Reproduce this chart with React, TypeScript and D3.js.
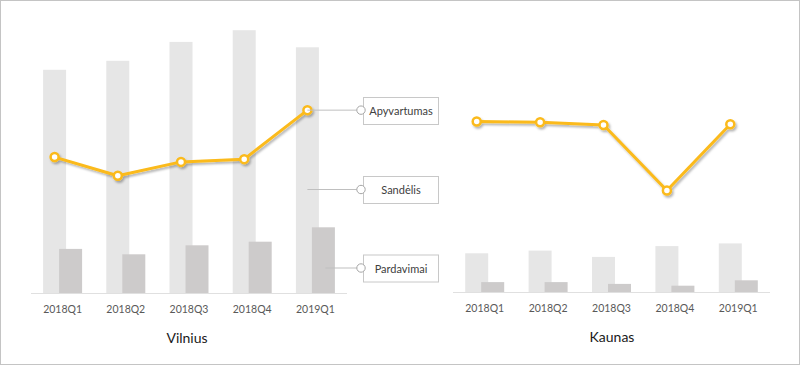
import React from "react";
import { scaleBand, scaleLinear, line } from "d3";

// quarters on the x axis
const quarters = ["2018Q1", "2018Q2", "2018Q3", "2018Q4", "2019Q1"];

// Vilnius
const vilniusSandelis = [248, 258, 279, 292, 273];
const vilniusPardavimai = [49, 43, 53, 57, 73];
const vilniusApyvartumas = [19.7, 17.0, 19.0, 19.4, 26.5];

// Kaunas
const kaunasSandelis = [43, 46, 39, 51, 54];
const kaunasPardavimai = [11, 11, 9, 7, 13];
const kaunasApyvartumas = [24.7, 24.6, 24.2, 14.7, 24.3];

const seriesNames = ["Apyvartumas", "Sandėlis", "Pardavimai"];

const FONT = "Lato, 'Open Sans', sans-serif";
const LINE_COLOR = "#FBBA1A";

type PanelProps = {
  title: string;
  x0: number;
  x1: number;
  baseline: number;
  sandelis: number[];
  pardavimai: number[];
  apyvartumas: number[];
  titleX: number;
};

function Panel(props: PanelProps) {
  const { x0, x1, baseline } = props;
  const x = scaleBand<string>().domain(quarters).range([x0, x1]);
  const y = scaleLinear().domain([0, 300]).range([baseline, baseline - 270]);
  const y2 = scaleLinear().domain([0, 40]).range([baseline, baseline - 276]);
  const barW = 23;
  const cx = (q: string) => (x(q) as number) + x.bandwidth() / 2;

  const path = line<number>()
    .x((d, i) => cx(quarters[i]) - 8)
    .y((d) => y2(d));

  return (
    <g>
      {quarters.map((q, i) => (
        <rect
          key={"s" + q}
          x={cx(q) - 19.5}
          y={y(props.sandelis[i])}
          width={barW}
          height={baseline - y(props.sandelis[i])}
          fill="#E6E6E6"
        />
      ))}
      {quarters.map((q, i) => (
        <rect
          key={"p" + q}
          x={cx(q) - 3.5}
          y={y(props.pardavimai[i])}
          width={barW}
          height={baseline - y(props.pardavimai[i])}
          fill="#CDCBCB"
        />
      ))}
      <line x1={x0} x2={x1} y1={baseline + 0.5} y2={baseline + 0.5} stroke="#E0E0E0" />
      {quarters.map((q) => (
        <text
          key={"t" + q}
          x={cx(q)}
          y={baseline + 20}
          textAnchor="middle"
          fontFamily={FONT}
          fontSize={10.5}
          fill="#595959"
        >
          {q}
        </text>
      ))}
      <g filter="url(#shadow)">
        <path d={path(props.apyvartumas) || ""} fill="none" stroke={LINE_COLOR} strokeWidth={3} strokeLinejoin="round" />
        {props.apyvartumas.map((v, i) => (
          <circle
            key={"m" + i}
            cx={cx(quarters[i]) - 8}
            cy={y2(v)}
            r={4}
            fill="#fff"
            stroke={LINE_COLOR}
            strokeWidth={2.5}
          />
        ))}
      </g>
      <text
        x={props.titleX}
        y={baseline + 50}
        textAnchor="middle"
        fontFamily={FONT}
        fontSize={14}
        fill="#1a1a1a"
      >
        {props.title}
      </text>
    </g>
  );
}

export default function App() {
  // Vilnius scales again for the callout leaders
  const x = scaleBand<string>().domain(quarters).range([31, 347]);
  const y2 = scaleLinear().domain([0, 40]).range([293, 293 - 276]);
  const last = quarters[quarters.length - 1];
  const lastC = (x(last) as number) + x.bandwidth() / 2;
  const apyY = y2(vilniusApyvartumas[vilniusApyvartumas.length - 1]);

  const callouts = [
    { name: seriesNames[0], fromX: lastC - 8, y: apyY, boxY: 97 },
    { name: seriesNames[1], fromX: lastC - 8, y: 189.5, boxY: 176 },
    { name: seriesNames[2], fromX: lastC + 10, y: 268, boxY: 254.5 },
  ];

  return (
    <>
      <style>{`body{margin:0}`}</style>
      <svg width={800} height={365} style={{ display: "block" }}>
        <defs>
          <filter id="shadow" x="-20%" y="-20%" width="140%" height="160%">
            <feDropShadow dx={1.5} dy={2} stdDeviation={1.3} floodColor="#000" floodOpacity={0.3} />
          </filter>
        </defs>
        <rect x={0.5} y={0.5} width={799} height={364} fill="#fff" stroke="#C4C4C4" />
        <Panel
          title="Vilnius"
          x0={31}
          x1={347}
          baseline={293}
          sandelis={vilniusSandelis}
          pardavimai={vilniusPardavimai}
          apyvartumas={vilniusApyvartumas}
          titleX={187}
        />
        <Panel
          title="Kaunas"
          x0={453}
          x1={770}
          baseline={292}
          sandelis={kaunasSandelis}
          pardavimai={kaunasPardavimai}
          apyvartumas={kaunasApyvartumas}
          titleX={612}
        />
        {callouts.map((c) => (
          <g key={c.name}>
            <line x1={c.fromX} x2={358} y1={c.y} y2={c.y} stroke="#BFBFBF" />
            <rect x={363.5} y={c.boxY + 0.5} width={75} height={27} fill="#fff" stroke="#C8C8C8" />
            <circle cx={361} cy={c.y} r={4.2} fill="#fff" stroke="#A6A6A6" />
            <text
              x={401}
              y={c.boxY + 18}
              textAnchor="middle"
              fontFamily={FONT}
              fontSize={11}
              fill="#404040"
            >
              {c.name}
            </text>
          </g>
        ))}
      </svg>
    </>
  );
}
